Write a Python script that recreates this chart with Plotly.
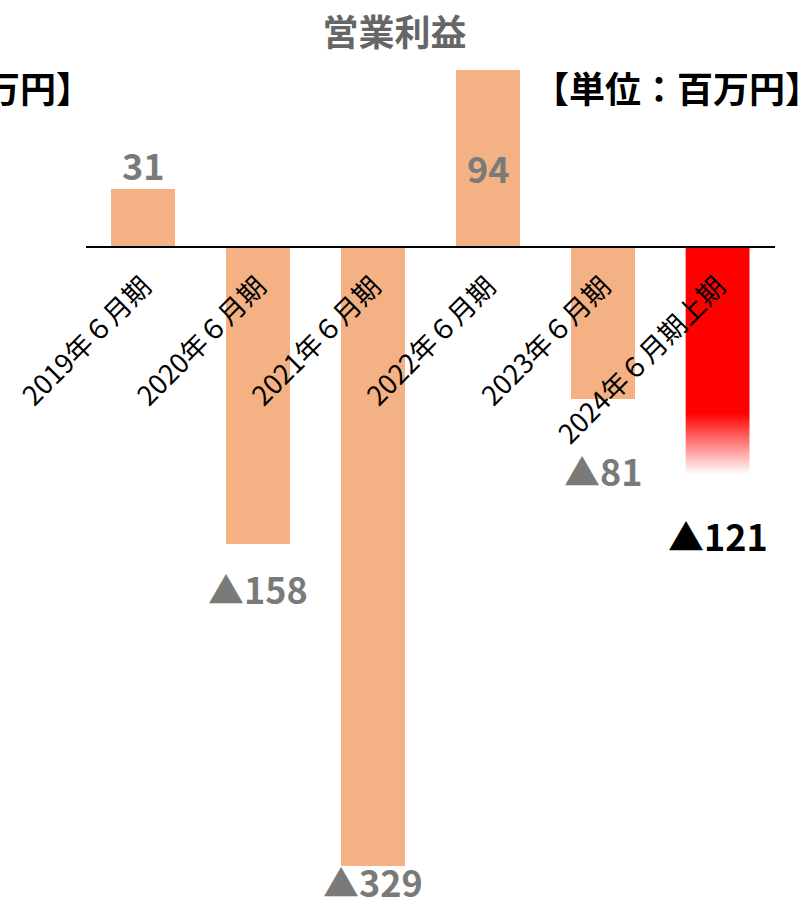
import plotly.graph_objects as go

categories = ["2019年６月期", "2020年６月期", "2021年６月期", "2022年６月期", "2023年６月期", "2024年６月期上期"]
values = [31, -158, -329, 94, -81, -121]
value_labels = ["31", "▲158", "▲329", "94", "▲81", "▲121"]

# style lists (not data)
label_colors = ["#7a7a7a", "#7a7a7a", "#7a7a7a", "#7a7a7a", "#7a7a7a", "#000000"]
label_yshift = [25, -44, -15, -97, -71, -61]
BAR_COLOR = "#F4B183"
BAR_W = 0.556

idx = list(range(len(categories)))
n_last = len(values) - 1

fig = go.Figure()
bar_colors = [BAR_COLOR] * n_last + ["rgba(0,0,0,0)"]
fig.add_trace(go.Bar(x=idx, y=values, width=BAR_W, marker=dict(color=bar_colors, line=dict(width=0)),
                     hoverinfo="skip", showlegend=False))

# gradient red bar for the last period
xl, xr = idx[-1] - BAR_W / 2, idx[-1] + BAR_W / 2
v = values[-1]
fig.add_trace(go.Scatter(
    x=[xl, xr, xr, xl, xl], y=[0, 0, v, v, 0], mode="lines", line=dict(width=0),
    fill="toself",
    fillgradient=dict(type="vertical", start=v, stop=0,
                      colorscale=[[0, "rgba(255,255,255,1)"], [0.27, "rgba(255,0,0,1)"], [1, "rgba(255,0,0,1)"]]),
    hoverinfo="skip", showlegend=False))

for i, (val, txt) in enumerate(zip(values, value_labels)):
    fig.add_annotation(x=idx[i], y=val, text=f"<b>{txt}</b>", showarrow=False,
                       yanchor="middle", xanchor="center", yshift=label_yshift[i],
                       font=dict(size=36, color=label_colors[i], family="Noto Sans CJK JP"))

unit = "<b>【単位：百万円】</b>"
fig.add_annotation(xref="paper", yref="paper", x=0.646, y=1.0, yanchor="top", xanchor="left",
                   yshift=-19, text=unit, showarrow=False,
                   font=dict(size=36, color="#000", family="Noto Sans CJK JP"))
fig.add_annotation(xref="paper", yref="paper", x=0.012, y=1.0, yanchor="top", xanchor="right",
                   yshift=-19, text=unit, showarrow=False,
                   font=dict(size=36, color="#000", family="Noto Sans CJK JP"))

ymin, ymax = -342, 110.1
zero_pos = (0 - ymin) / (ymax - ymin)

fig.update_layout(
    width=805, height=900,
    margin=dict(l=86, r=30, t=40, b=10),
    paper_bgcolor="white", plot_bgcolor="white",
    title=dict(text="<b>営業利益</b>", x=0.49, xanchor="center", y=1 - 33 / 900, yanchor="middle",
               yref="container", font=dict(size=36, color="#666666", family="Noto Sans CJK JP")),
    xaxis=dict(range=[-0.5, 5.5], tickvals=idx, ticktext=categories, tickangle=-45,
               anchor="free", position=zero_pos, showline=True, linecolor="#000", linewidth=2,
               ticks="", showgrid=False, zeroline=False, ticklabelstandoff=12,
               tickfont=dict(size=27, color="#000", family="Noto Sans CJK JP")),
    yaxis=dict(range=[ymin, ymax], visible=False, showgrid=False, zeroline=False),
    bargap=0,
)

fig.write_html("out.html")
